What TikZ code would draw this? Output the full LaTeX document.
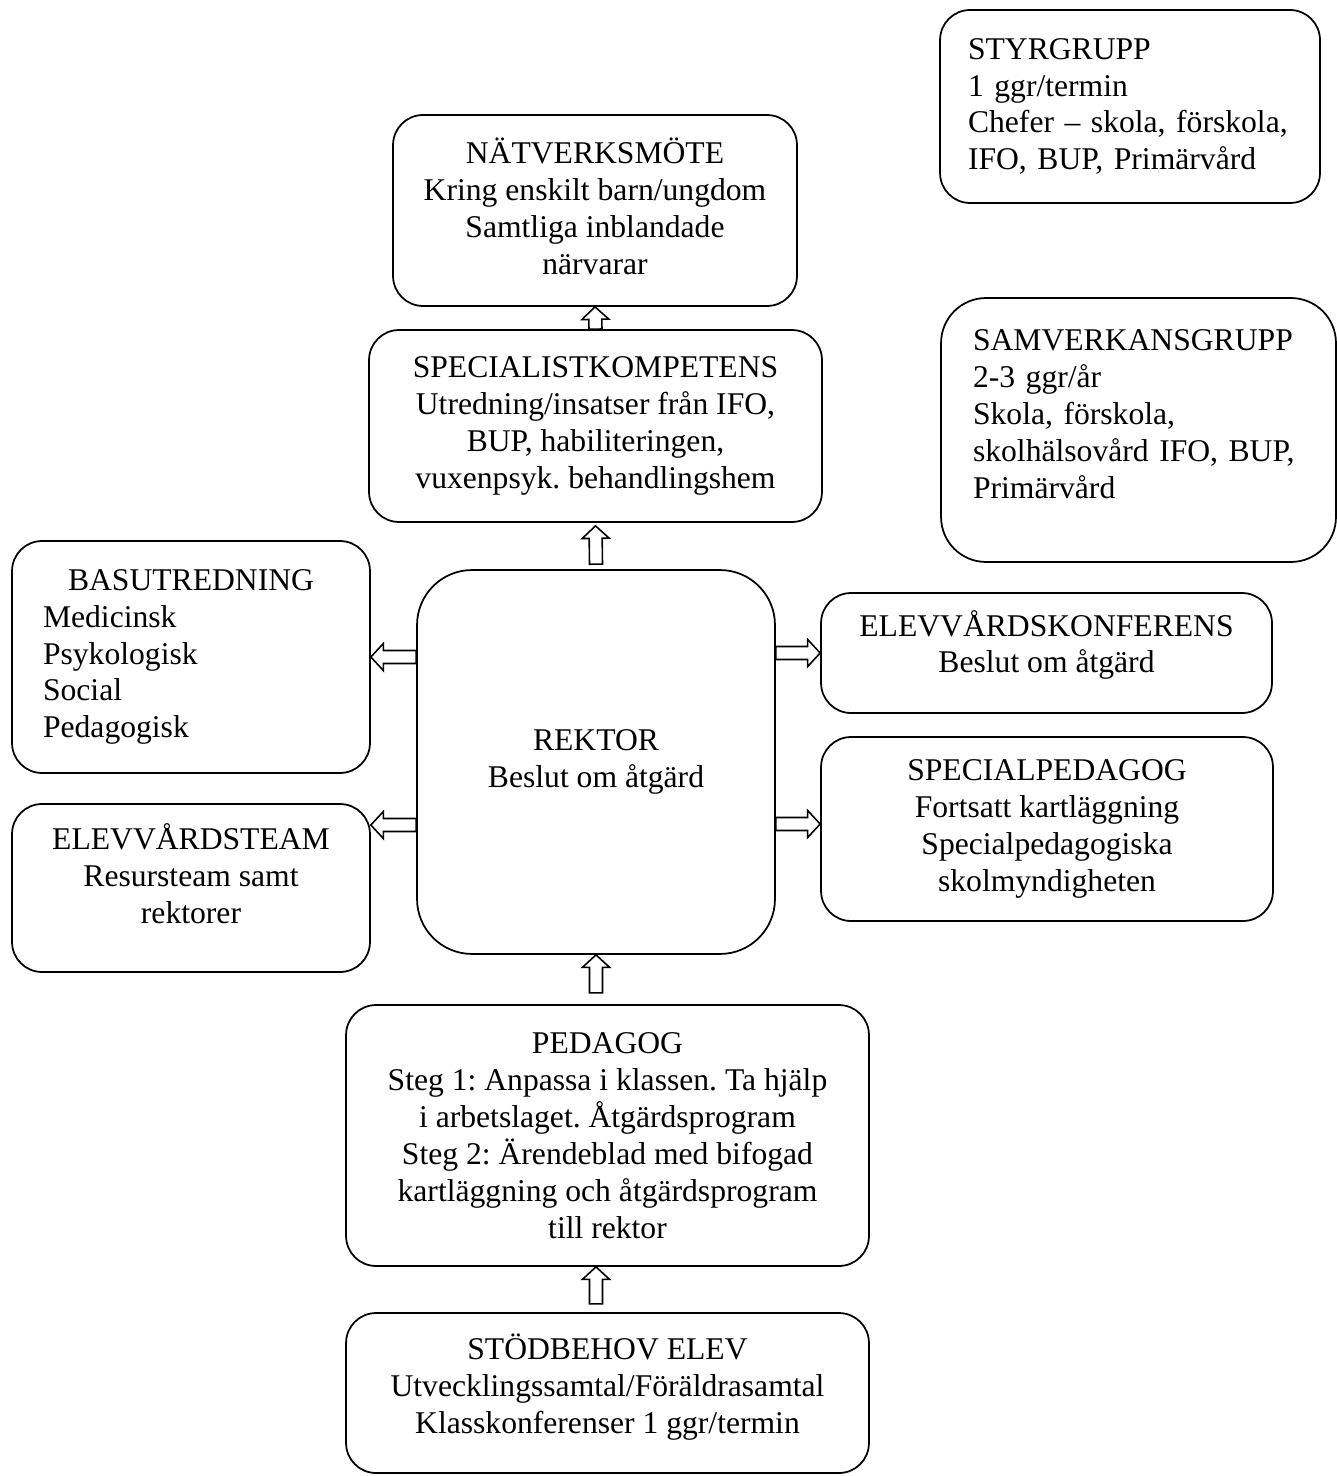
\documentclass[tikz,border=0pt]{standalone}
\usepackage{fontspec}
\setmainfont{Liberation Serif}
\usetikzlibrary{calc}
\frenchspacing

\newcommand{\hollowarrow}[2]{%
  \coordinate (ha) at (#1);
  \coordinate (hb) at (#2);
  \coordinate (hh) at ($(hb)!0.25cm!(ha)$);
  \draw[arr] ($(ha)!0.13cm!90:(hb)$) -- ($(hh)!0.13cm!90:(hb)$) -- ($(hh)!0.27cm!90:(hb)$)
    -- (hb) -- ($(hh)!0.27cm!-90:(hb)$) -- ($(hh)!0.13cm!-90:(hb)$) -- ($(ha)!0.13cm!-90:(hb)$) -- cycle;
}

\begin{document}
\begin{tikzpicture}[x=0.02cm,y=-0.02cm]
  \tikzstyle{box}=[draw,line width=1pt,rounded corners=0.6cm,align=center,inner sep=0pt,font=\fontsize{18}{21}\selectfont]
  \tikzstyle{lbox}=[box,align=left]
  \tikzstyle{arr}=[draw,fill=white,line width=0.9pt]
  \useasboundingbox (0,0) rectangle (1336,1476);
  % groups on the right
  \node[lbox,inner xsep=0.56cm,text width=6.48cm,minimum height=3.86cm] (styr) at (1130,106.5)
    {STYRGRUPP\\1 ggr/termin\\Chefer -- skola, förskola,\\IFO, BUP, Primärvård};
  \node[lbox,rounded corners=0.9cm,inner xsep=0.64cm,text width=6.62cm,minimum height=5.28cm] (samv) at (1138.5,430)
    {SAMVERKANSGRUPP\\2-3 ggr/år\\Skola, förskola,\\skolhälsovård IFO, BUP,\\Primärvård\\[-0.32cm]\strut};
  % main column
  \node[box,minimum width=8.08cm,minimum height=3.82cm] (nat) at (595,210.5)
    {NÄTVERKSMÖTE\\Kring enskilt barn/ungdom\\Samtliga inblandade\\närvarar\\[-0.8cm]\strut};
  \node[box,minimum width=9.06cm,minimum height=3.84cm] (spec) at (595.5,426)
    {SPECIALISTKOMPETENS\\Utredning/insatser från IFO,\\BUP, habiliteringen,\\vuxenpsyk. behandlingshem};
  \node[box,rounded corners=1.1cm,minimum width=7.16cm,minimum height=7.68cm] (rektor) at (596,762)
    {REKTOR\\Beslut om åtgärd};
  \node[box,minimum width=10.46cm,minimum height=5.22cm] (ped) at (607.5,1135.5)
    {PEDAGOG\\Steg 1: Anpassa i klassen. Ta hjälp\\i arbetslaget. Åtgärdsprogram\\Steg 2: Ärendeblad med bifogad\\kartläggning och åtgärdsprogram\\till rektor};
  \node[box,minimum width=10.46cm,minimum height=3.2cm] (stod) at (607.5,1393)
    {STÖDBEHOV ELEV\\Utvecklingssamtal/Föräldrasamtal\\Klasskonferenser 1 ggr/termin\\[-0.6cm]\strut};
  % left side
  \node[lbox,inner xsep=0.62cm,text width=5.92cm,minimum height=4.64cm] (bas) at (191,657)
    {\hfill BASUTREDNING\hfill\null\\Medicinsk\\Psykologisk\\Social\\Pedagogisk};
  \node[box,minimum width=7.16cm,minimum height=3.36cm] (team) at (191,888)
    {ELEVVÅRDSTEAM\\Resursteam samt\\rektorer\\[-0.38cm]\strut};
  % right side
  \node[box,minimum width=9.02cm,minimum height=2.4cm] (konf) at (1046.5,653)
    {ELEVVÅRDSKONFERENS\\Beslut om åtgärd\\[-0.5cm]\strut};
  \node[box,minimum width=9.04cm,minimum height=3.68cm] (sped) at (1047,829)
    {SPECIALPEDAGOG\\Fortsatt kartläggning\\Specialpedagogiska\\skolmyndigheten};
  % arrows
  \hollowarrow{spec.north}{nat.south}
  \hollowarrow{$(rektor.north)+(0,-5)$}{$(spec.south)+(0,3)$}
  \hollowarrow{rektor.west |- bas.east}{bas.east}
  \coordinate (tl) at ($(rektor.west)+(0,63)$);
  \hollowarrow{tl}{tl -| team.east}
  \hollowarrow{rektor.east |- konf.west}{konf.west}
  \coordinate (tr) at ($(rektor.east)+(0,62)$);
  \hollowarrow{tr}{tr -| sped.west}
  \hollowarrow{$(rektor.south)+(0,38)$}{rektor.south}
  \coordinate (pb) at (rektor.south |- ped.south);
  \hollowarrow{$(pb)+(0,37)$}{pb}
\end{tikzpicture}
\end{document}
